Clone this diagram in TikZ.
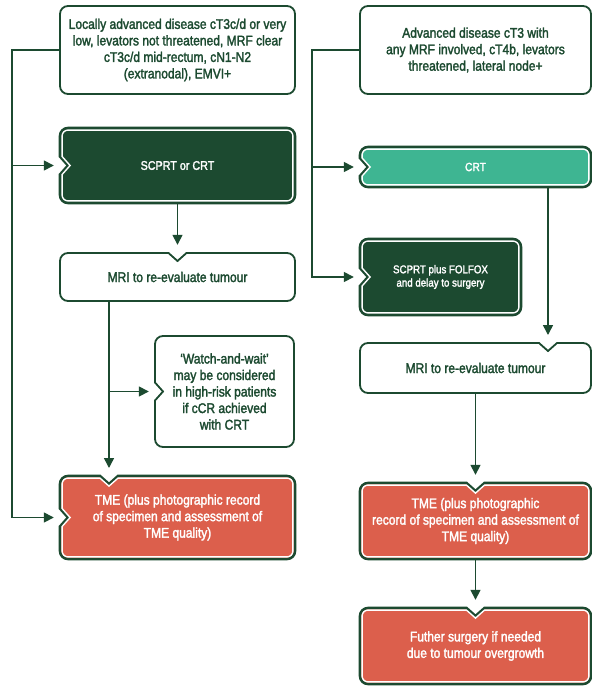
\documentclass[tikz,border=0pt]{standalone}
\usepackage{fontspec}
\setmainfont{Liberation Sans}[FakeStretch=0.86,FakeBold=2]
\usetikzlibrary{arrows.meta}
\definecolor{dkg}{HTML}{1C4A30}
\definecolor{tealc}{HTML}{3EB592}
\definecolor{redc}{HTML}{DC5F4C}
\tikzset{
  shp/.style n args={9}{insert path={
    ({#1+8},{#2+#7}) -- ({#5-9},{#2+#7}) -- (#5,{#2+#7+#8}) -- ({#5+9},{#2+#7}) -- ({#3-8},{#2+#7})
    arc[start angle=90,end angle=0,radius={8pt-#7pt}]
    -- ({#3-#7},{#4-8})
    arc[start angle=0,end angle=-90,radius={8pt-#7pt}]
    -- ({#1+8},{#4-#7})
    arc[start angle=270,end angle=180,radius={8pt-#7pt}]
    -- ({#1+#7},{#6+9}) -- ({#1+#7+#9},#6) -- ({#1+#7},{#6-9}) -- ({#1+#7},{#2+8})
    arc[start angle=180,end angle=90,radius={8pt-#7pt}] -- cycle}},
  conn/.style={draw=dkg, line width=1.5pt},
  arr/.style={conn, -{Triangle[length=10pt,width=10pt]}},
  bx/.style={inner sep=0pt, align=center},
  gtxt/.style={text=dkg, font=\fontsize{14}{16.5}\selectfont},
  wtxt/.style={text=white, font=\fontsize{14}{16.5}\selectfont},
  wsmall/.style={text=white, font=\fontsize{12.5}{14}\selectfont},
  wtiny/.style={text=white, font=\fontsize{11.3}{13.3}\selectfont},
}
\newcommand\drawplain[8]{\path[fill=white,draw=dkg,line width=1.8pt][shp={#1}{#2}{#3}{#4}{#5}{#6}{0}{#7}{#8}];}
\newcommand\drawfilled[9]{%
  \path[fill=#1,draw=dkg,line width=2.6pt][shp={#2}{#3}{#4}{#5}{#6}{#7}{0}{#8}{#9}];
  \path[draw=white,line width=1.4pt][shp={#2}{#3}{#4}{#5}{#6}{#7}{2.1}{#8}{#9}];}
\begin{document}
\begin{tikzpicture}[x=1pt,y=-1pt]
\useasboundingbox[fill=white] (0,0) rectangle (592,686);

% boxes
\drawplain{60}{6}{295}{94}{177.5}{50}{0}{0}
\node[bx,gtxt,minimum width=235pt,minimum height=88pt] (A) at (177.5,50)
  {Locally advanced disease cT3c/d or very\\low, levators not threatened, MRF clear\\cT3c/d mid-rectum, cN1-N2\\(extranodal), EMVI+};

\drawplain{360}{6}{591}{94}{475.5}{50}{0}{0}
\node[bx,gtxt,minimum width=231pt,minimum height=88pt] (B) at (475.5,50)
  {Advanced disease cT3 with\\any MRF involved, cT4b, levators\\threatened, lateral node+};

\drawfilled{dkg}{60}{128}{295}{203}{177.5}{165.5}{0}{8}
\node[bx,wsmall,minimum width=235pt,minimum height=75pt] (S1) at (177.5,165.5) {SCPRT or CRT};

\drawfilled{tealc}{360}{147}{591}{187}{475.5}{167}{0}{8}
\node[bx,wsmall,font=\fontsize{11.9}{14}\selectfont,minimum width=231pt,minimum height=40pt] (C) at (475.5,167) {CRT};

\drawfilled{dkg}{360}{239}{521}{315}{440.5}{277}{0}{8}
\node[bx,wtiny,minimum width=161pt,minimum height=76pt] (F) at (440.5,277) {SCPRT plus FOLFOX\\and delay to surgery};

\drawplain{60}{253}{295}{301}{177.5}{277}{8}{0}
\node[bx,gtxt,minimum width=235pt,minimum height=48pt] (M1) at (177.5,277) {MRI to re-evaluate tumour};

\drawplain{155}{336}{294}{447}{224.5}{391.5}{0}{8}
\node[bx,gtxt,minimum width=139pt,minimum height=111pt] (W) at (224.5,391.5)
  {‘Watch-and-wait’\\may be considered\\in high-risk patients\\if cCR achieved\\with CRT};

\drawfilled{redc}{60}{476}{295}{559}{109}{517.5}{8}{8}
\node[bx,wtxt,minimum width=235pt,minimum height=83pt] (T1) at (177.5,517.5)
  {TME (plus photographic record\\of specimen and assessment of\\TME quality)};
\coordinate (T1n) at (109,476);

\drawplain{360}{343}{591}{393}{548}{368}{8}{0}
\node[bx,gtxt,minimum width=231pt,minimum height=50pt] (M2) at (475.5,368) {MRI to re-evaluate tumour};
\coordinate (M2n) at (548,343);

\drawfilled{redc}{360}{483}{591}{559}{475.5}{521}{8}{0}
\node[bx,wtxt,minimum width=231pt,minimum height=76pt] (T2) at (475.5,521)
  {TME (plus photographic\\record of specimen and assessment of\\TME quality)};

\drawfilled{redc}{360}{608}{591}{684}{475.5}{646}{8}{0}
\node[bx,wtxt,minimum width=231pt,minimum height=76pt] (FS) at (475.5,646)
  {Futher surgery if needed\\due to tumour overgrowth};

% connectors
\coordinate (Lbus) at (12,50);
\coordinate (Rbus) at (312,50);
\draw[arr] (A.west) -- (Lbus) |- ([xshift=-6pt]T1.west);
\draw[arr] (Lbus |- S1.west) -- ([xshift=-6pt]S1.west);
\draw[arr] (B.west) -- (Rbus) |- ([xshift=-6pt]F.west);
\draw[arr] (Rbus |- C.west) -- ([xshift=-6pt]C.west);
\draw[arr] (S1.south) -- ([yshift=8pt]M1.north);
\draw[arr] (M1.south -| T1n) -- ([yshift=8pt]T1n);
\draw[arr] (W.west -| T1n) -- ([xshift=-6pt]W.west);
\draw[arr] (C.south -| M2n) -- ([yshift=8pt]M2n);
\draw[arr] (M2.south) -- ([yshift=8pt]T2.north);
\draw[arr] (T2.south) -- ([yshift=8pt]FS.north);
\end{tikzpicture}
\end{document}
